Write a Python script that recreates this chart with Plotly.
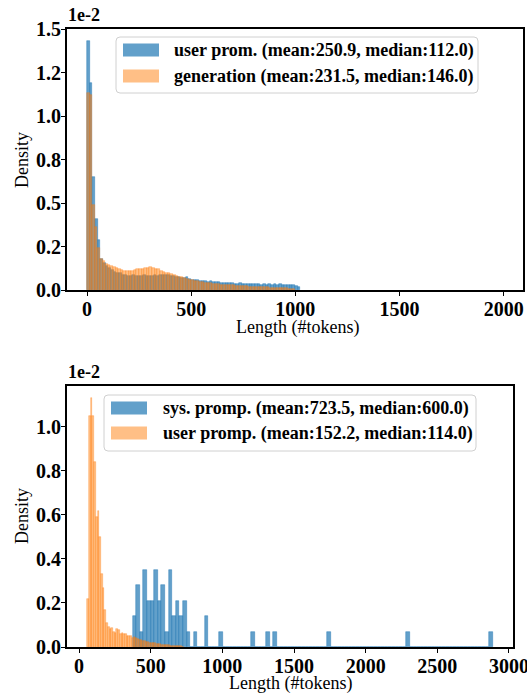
import numpy as np
import plotly.graph_objects as go

# ---------------- data (densities in units of 1e-2) ----------------
# Top panel: user prompt vs generation length histograms
user_bin_start = 0.0
user_bin_width = 12.8
user_density = [
    1.43, 1.19, 0.65, 0.41, 0.29, 0.18, 0.155, 0.14, 0.125, 0.115,
    0.105, 0.10, 0.095, 0.088, 0.085, 0.082, 0.080, 0.085, 0.078, 0.082,
    0.080, 0.085, 0.079, 0.083, 0.080, 0.086, 0.082, 0.088, 0.085, 0.087,
    0.085, 0.080, 0.078, 0.075, 0.072, 0.070, 0.068, 0.072, 0.063, 0.060,
    0.058, 0.055, 0.052, 0.054, 0.050, 0.048, 0.050, 0.045, 0.044, 0.046,
    0.042, 0.040, 0.043, 0.038, 0.040, 0.037, 0.036, 0.039, 0.035, 0.036,
    0.034, 0.033, 0.036, 0.032, 0.034, 0.031, 0.035, 0.030, 0.033, 0.030,
    0.032, 0.029, 0.033, 0.030, 0.028, 0.031, 0.028, 0.027, 0.025, 0.020,
]
gen_bin_start = 0.0
gen_bin_width = 12.5
gen_density = [
    1.13, 1.12, 0.49, 0.36, 0.24, 0.18, 0.165, 0.15, 0.145, 0.14,
    0.13, 0.125, 0.12, 0.115, 0.112, 0.11, 0.108, 0.112, 0.115, 0.118,
    0.12, 0.122, 0.125, 0.128, 0.13, 0.126, 0.12, 0.118, 0.11, 0.105,
    0.10, 0.095, 0.09, 0.085, 0.08, 0.077, 0.072, 0.068, 0.063, 0.06,
    0.056, 0.053, 0.05, 0.047, 0.045, 0.042, 0.04, 0.038, 0.036, 0.034,
    0.033, 0.031, 0.03, 0.029, 0.028, 0.027, 0.026, 0.025, 0.024, 0.023,
    0.022, 0.021, 0.02, 0.02, 0.019, 0.018, 0.017, 0.016, 0.015, 0.015,
    0.014, 0.013, 0.012, 0.012, 0.011, 0.010, 0.009, 0.008, 0.007, 0.006,
]
top_names = ["user prom. (mean:250.9, median:112.0)",
             "generation (mean:231.5, median:146.0)"]

# Bottom panel: system prompt vs user prompt length histograms
sys_bin_start = 374.0
sys_bin_width = 25.13
sys_density = [
    0.14, 0.28, 0.07, 0.35, 0.21, 0.21, 0.35, 0.21, 0.28, 0.07,
    0.35, 0.14, 0.21, 0.14, 0.21, 0.07, 0.0, 0.07, 0.0, 0.0,
    0.14, 0.0, 0.0, 0.0, 0.07, 0.0, 0.0, 0.0, 0.0, 0.0,
    0.0, 0.0, 0.0, 0.07, 0.0, 0.0, 0.0, 0.07, 0.0, 0.07,
    0.0, 0.0, 0.0, 0.0, 0.0, 0.0, 0.0, 0.0, 0.0, 0.0,
    0.0, 0.0, 0.0, 0.0, 0.07, 0.0, 0.0, 0.0, 0.0, 0.0,
    0.0, 0.0, 0.0, 0.0, 0.0, 0.0, 0.0, 0.0, 0.0, 0.0,
    0.0, 0.0, 0.0, 0.0, 0.0, 0.0, 0.07, 0.0, 0.0, 0.0,
    0.0, 0.0, 0.0, 0.0, 0.0, 0.0, 0.0, 0.0, 0.0, 0.0,
    0.0, 0.0, 0.0, 0.0, 0.0, 0.0, 0.0, 0.0, 0.0, 0.07,
]
uprompt_bin_start = 57.0
uprompt_bin_width = 12.0
uprompt_density = [
    0.22, 1.05, 1.13, 1.05, 0.84, 0.59, 0.62, 0.50, 0.33, 0.27,
    0.17, 0.11, 0.09, 0.08, 0.085, 0.07, 0.065, 0.08, 0.075, 0.06,
    0.062, 0.057, 0.06, 0.05, 0.048, 0.05, 0.042, 0.045, 0.04, 0.036,
    0.033, 0.03, 0.028, 0.026, 0.024, 0.022, 0.02, 0.019, 0.017, 0.016,
    0.014, 0.013, 0.012, 0.011, 0.010, 0.009, 0.008, 0.007, 0.006, 0.006,
    0.005, 0.004, 0.004, 0.003, 0.003, 0.002,
]
bottom_names = ["sys. promp. (mean:723.5, median:600.0)",
                "user promp. (mean:152.2, median:114.0)"]

top_xticks = [0, 500, 1000, 1500, 2000]
top_yticks = [0, 0.25, 0.5, 0.75, 1.0, 1.25, 1.5]
top_yticktext = ["0.0", "0.2", "0.5", "0.8", "1.0", "1.2", "1.5"]
bot_xticks = [0, 500, 1000, 1500, 2000, 2500, 3000]
bot_yticks = [0, 0.2, 0.4, 0.6, 0.8, 1.0]
bot_yticktext = ["0.0", "0.2", "0.4", "0.6", "0.8", "1.0"]

# ---------------- styling ----------------
W, H = 527, 693
BLUE_FILL = "rgba(31,119,180,0.70)"
BLUE_EDGE = "rgba(31,119,180,0.70)"
ORANGE_FILL = "rgba(255,127,14,0.50)"
ORANGE_EDGE = "rgba(255,127,14,0.55)"
FONT = "Liberation Serif, Times New Roman, serif"


def px_x(p):
    return p / W


def px_y(p):
    return 1 - p / H


def centers(start, width, n):
    return start + width * (np.arange(n) + 0.5)


fig = go.Figure()

fig.add_trace(go.Bar(
    x=centers(user_bin_start, user_bin_width, len(user_density)), y=user_density,
    width=user_bin_width, name=top_names[0], xaxis="x", yaxis="y",
    marker=dict(color=BLUE_FILL, line=dict(color=BLUE_EDGE, width=0.6)),
    showlegend=False))
fig.add_trace(go.Bar(
    x=centers(gen_bin_start, gen_bin_width, len(gen_density)), y=gen_density,
    width=gen_bin_width, name=top_names[1], xaxis="x", yaxis="y",
    marker=dict(color=ORANGE_FILL, line=dict(color=ORANGE_EDGE, width=0.6)),
    showlegend=False))
fig.add_trace(go.Bar(
    x=centers(sys_bin_start, sys_bin_width, len(sys_density)), y=sys_density,
    width=sys_bin_width, name=bottom_names[0], xaxis="x2", yaxis="y2",
    marker=dict(color=BLUE_FILL, line=dict(color=BLUE_EDGE, width=0.6)),
    showlegend=False))
fig.add_trace(go.Bar(
    x=centers(uprompt_bin_start, uprompt_bin_width, len(uprompt_density)), y=uprompt_density,
    width=uprompt_bin_width, name=bottom_names[1], xaxis="x2", yaxis="y2",
    marker=dict(color=ORANGE_FILL, line=dict(color=ORANGE_EDGE, width=0.6)),
    showlegend=False))

tickfont = dict(family=FONT, size=20, color="black", weight="bold")
axis_common = dict(
    showline=True, linecolor="black", linewidth=2, mirror=True,
    ticks="outside", ticklen=4, tickwidth=1.3, tickcolor="black",
    showgrid=False, zeroline=False, tickfont=tickfont, automargin=False,
    ticklabelstandoff=-4, ticklabeloverflow="allow",
)

fig.update_layout(
    width=W, height=H,
    margin=dict(l=0, r=0, t=0, b=0),
    paper_bgcolor="white", plot_bgcolor="white",
    barmode="overlay", bargap=0,
    xaxis=dict(domain=[px_x(67), px_x(523)], anchor="y", range=[-96, 2093],
               tickvals=top_xticks, **axis_common),
    yaxis=dict(domain=[px_y(290), px_y(29)], anchor="x", range=[0, 1.5],
               tickvals=top_yticks, ticktext=top_yticktext, **axis_common),
    xaxis2=dict(domain=[px_x(67), px_x(513)], anchor="y2", range=[-84, 3028],
                tickvals=bot_xticks, **axis_common),
    yaxis2=dict(domain=[px_y(647), px_y(386)], anchor="x2", range=[0, 1.186],
                tickvals=bot_yticks, ticktext=bot_yticktext, **axis_common),
)

ann = []
shapes = []
title_font = dict(family=FONT, size=18, color="black")
bold_font = dict(family=FONT, size=18, color="black", weight="bold")

for yc in (160, 516):
    ann.append(dict(x=px_x(22), y=px_y(yc), xref="paper", yref="paper",
                    text="Density", showarrow=False, textangle=-90,
                    font=title_font, xanchor="center", yanchor="middle"))
ann.append(dict(x=px_x(297), y=px_y(327), xref="paper", yref="paper",
                text="Length (#tokens)", showarrow=False, font=title_font,
                xanchor="center", yanchor="middle"))
ann.append(dict(x=px_x(290), y=px_y(683), xref="paper", yref="paper",
                text="Length (#tokens)", showarrow=False, font=title_font,
                xanchor="center", yanchor="middle"))
for yc in (15, 372):
    ann.append(dict(x=px_x(66), y=px_y(yc), xref="paper", yref="paper",
                    text="1e-2", showarrow=False, font=bold_font,
                    xanchor="left", yanchor="middle"))


def rounded_box(x0, y0, x1, y1, r=4):
    X0, X1 = px_x(x0), px_x(x1)
    Y0, Y1 = px_y(y0), px_y(y1)
    rx, ry = r / W, r / H
    return (f"M {X0+rx},{Y0} L {X1-rx},{Y0} Q {X1},{Y0} {X1},{Y0-ry} "
            f"L {X1},{Y1+ry} Q {X1},{Y1} {X1-rx},{Y1} L {X0+rx},{Y1} "
            f"Q {X0},{Y1} {X0},{Y1+ry} L {X0},{Y0-ry} Q {X0},{Y0} {X0+rx},{Y0} Z")


def legend(box, patch_x, rows, text_x, names):
    shapes.append(dict(type="path", xref="paper", yref="paper",
                       path=rounded_box(*box), fillcolor="rgba(255,255,255,0.8)",
                       line=dict(color="#d0d0d0", width=1)))
    for (yc, col), name in zip(rows, names):
        shapes.append(dict(type="rect", xref="paper", yref="paper",
                           x0=px_x(patch_x[0]), x1=px_x(patch_x[1]),
                           y0=px_y(yc + 6.5), y1=px_y(yc - 6.5),
                           fillcolor=col, line=dict(width=0)))
        ann.append(dict(x=px_x(text_x), y=px_y(yc), xref="paper", yref="paper",
                        text=name, showarrow=False, font=bold_font,
                        xanchor="left", yanchor="middle"))


legend((116, 37, 478, 93), (123, 159), [(50, BLUE_FILL), (76, ORANGE_FILL)], 172, top_names)
legend((104, 395, 476, 451), (111, 147), [(408, BLUE_FILL), (433, ORANGE_FILL)], 161, bottom_names)

fig.update_layout(annotations=ann, shapes=shapes)
fig.write_html(
    "out.html",
    config={"displayModeBar": False},
    post_script="document.body.style.margin='0';document.body.style.overflow='hidden';",
)
